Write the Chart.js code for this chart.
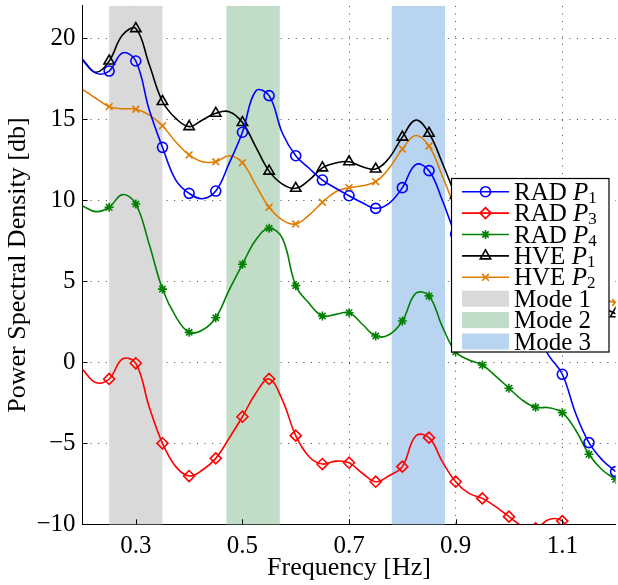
<!DOCTYPE html>
<html><head><meta charset="utf-8">
<script src="https://cdn.jsdelivr.net/npm/chart.js@4/dist/chart.umd.min.js"></script>
<style>html,body{margin:0;padding:0;background:#fff}</style>
</head><body>
<canvas id="c" width="618" height="585" style="display:block;width:618px;height:585px"></canvas>
<script>
// ---- data ----
const freq = [0.2,0.225,0.25,0.275,0.3,0.325,0.35,0.375,0.4,0.425,0.45,0.475,0.5,0.525,0.55,0.575,0.6,0.625,0.65,0.675,0.7,0.725,0.75,0.775,0.8,0.825,0.85,0.875,0.9,0.925,0.95,0.975,1.0,1.025,1.05,1.075,1.1,1.125,1.15,1.175,1.2];
const radP1 = [18.7,17.85,17.98,19.1,18.6,15.6,13.27,11.25,10.43,10.1,10.57,12.28,14.2,16.75,16.46,14.14,12.75,11.98,11.25,10.74,10.28,9.85,9.5,9.81,10.78,12.2,11.83,10.0,7.9,6.6,5.5,4.6,3.8,2.9,1.8,0.4,-0.74,-3.15,-4.96,-6.03,-6.75];
const radP3 = [-0.43,-1.25,-1.03,0.2,-0.06,-2.74,-5.0,-6.44,-7.02,-6.65,-5.93,-4.69,-3.36,-1.91,-1.03,-2.33,-4.53,-5.83,-6.28,-6.1,-6.2,-6.85,-7.37,-7.0,-6.44,-4.55,-4.65,-6.13,-7.37,-8.09,-8.4,-8.91,-9.53,-10.1,-10.25,-9.7,-9.8,-11.2,-12.5,-13.2,-13.6];
const radP4 = [9.65,9.3,9.57,10.35,9.77,7.3,4.52,2.82,1.85,1.99,2.75,4.46,6.05,7.55,8.27,7.65,4.73,3.64,2.86,2.96,3.06,2.35,1.62,1.7,2.55,4.25,4.1,2.2,0.65,0.14,-0.17,-0.85,-1.6,-2.33,-2.78,-2.8,-3.11,-4.18,-5.68,-6.65,-7.22];
const hveP1 = [18.66,17.9,18.6,20.2,20.6,18.4,16.1,15.06,14.55,14.96,15.37,15.47,14.8,13.3,11.8,11.0,10.74,11.25,12.0,12.3,12.38,12.07,11.93,12.6,13.9,14.95,14.14,12.3,10.3,8.7,7.4,6.5,5.9,5.4,5.0,4.7,4.4,4.1,3.8,3.4,3.0];
const hveP2 = [16.85,16.3,15.78,15.65,15.62,15.27,14.6,13.6,12.8,12.38,12.38,12.75,12.32,10.94,9.57,8.78,8.54,9.09,9.88,10.53,10.78,10.9,11.15,11.98,13.17,14.0,13.35,11.5,9.5,8.0,7.0,6.3,5.8,5.4,5.0,4.7,4.45,4.2,4.0,3.85,3.7];
const seriesNames = [['RAD','1'],['RAD','3'],['RAD','4'],['HVE','1'],['HVE','2']];
const modeNames = ['Mode 1','Mode 2','Mode 3'];
const modeStart = [0.25,0.47,0.78];
const modeEnd = [0.35,0.57,0.88];
const xTicks = [0.3,0.5,0.7,0.9,1.1];
const yTicks = [-10,-5,0,5,10,15,20];

// ---- styles ----
const FONT = 'Liberation Serif';
const FS_TICK = 25, FS_TITLE = 26, FS_LEG = 25;
const seriesColors = ['#0000ff','#ff0000','#008000','#000000','#de7d00'];
const seriesMarkers = ['circle','rectRot','star','triangle','crossRot'];
const markerSizes = [5,5.5,4.5,6,4.8];
const modeColors = ['#d9d9d9','#c1ddc7','#b9d4f0'];
const allSeries = [radP1,radP3,radP4,hveP1,hveP2];

const datasets = allSeries.map((vals,k)=>({
  label: seriesNames[k].join(' '),
  data: freq.map((x,i)=>({x:x,y:vals[i]})),
  borderColor: seriesColors[k],
  backgroundColor: seriesColors[k],
  borderWidth: 1.6,
  pointStyle: seriesMarkers[k],
  pointRadius: c => (c.dataIndex % 2 === 0 && c.dataIndex >= 2) ? markerSizes[k] : 0,
  pointBorderWidth: 1.6,
  pointBorderColor: seriesColors[k],
  pointBackgroundColor: 'rgba(0,0,0,0)',
  tension: 0.4,
  fill: false
}));

function marker(ctx, style, x, y, r){
  ctx.beginPath();
  const d = r*Math.SQRT1_2;
  switch(style){
    case 'circle': ctx.arc(x,y,r,0,Math.PI*2); break;
    case 'rectRot': ctx.moveTo(x,y-r); ctx.lineTo(x+r,y); ctx.lineTo(x,y+r); ctx.lineTo(x-r,y); ctx.closePath(); break;
    case 'triangle': ctx.moveTo(x,y-r); ctx.lineTo(x+0.866*r,y+0.5*r); ctx.lineTo(x-0.866*r,y+0.5*r); ctx.closePath(); break;
    case 'star': ctx.moveTo(x,y-r); ctx.lineTo(x,y+r); ctx.moveTo(x-r,y); ctx.lineTo(x+r,y);
      ctx.moveTo(x-d,y-d); ctx.lineTo(x+d,y+d); ctx.moveTo(x-d,y+d); ctx.lineTo(x+d,y-d); break;
    case 'crossRot': ctx.moveTo(x-d,y-d); ctx.lineTo(x+d,y+d); ctx.moveTo(x-d,y+d); ctx.lineTo(x+d,y-d); break;
  }
  ctx.stroke();
}

const bandsPlugin = {
  id:'bands',
  beforeDatasetsDraw(chart){
    const {ctx, chartArea:a, scales:{x}} = chart;
    ctx.save();
    modeStart.forEach((s,i)=>{
      const x1 = x.getPixelForValue(s), x2 = x.getPixelForValue(modeEnd[i]);
      ctx.fillStyle = modeColors[i];
      ctx.fillRect(x1, a.top, x2-x1, a.bottom-a.top);
    });
    ctx.restore();
  }
};

const ticksPlugin = {
  id:'inticks',
  afterDatasetsDraw(chart){
    const {ctx, chartArea:a, scales:{x,y}} = chart;
    ctx.save();
    ctx.strokeStyle = '#000'; ctx.lineWidth = 1;
    ctx.beginPath();
    xTicks.forEach(v=>{ const px = Math.round(x.getPixelForValue(v))+0.5; ctx.moveTo(px,a.bottom); ctx.lineTo(px,a.bottom-5); });
    yTicks.forEach(v=>{ const py = Math.round(y.getPixelForValue(v))+0.5; ctx.moveTo(a.left,py); ctx.lineTo(a.left+5,py); });
    ctx.stroke();
    ctx.restore();
  }
};

const legendPlugin = {
  id:'boxLegend',
  afterDraw(chart){
    const ctx = chart.ctx;
    const L=451.5, T=178.5, W=157.5, H=173.5;
    ctx.save();
    ctx.fillStyle='#fff'; ctx.fillRect(L,T,W,H);
    ctx.strokeStyle='#000'; ctx.lineWidth=1.2; ctx.strokeRect(L,T,W,H);
    const rowY = i => 191.7 + i*21.4;
    const tx = 514;
    chart.data.datasets.forEach((ds,i)=>{
      const y = rowY(i);
      ctx.strokeStyle = ds.borderColor; ctx.lineWidth = 1.6;
      ctx.beginPath(); ctx.moveTo(462,y); ctx.lineTo(509,y); ctx.stroke();
      marker(ctx, seriesMarkers[i], 485.5, y, markerSizes[i]);
      ctx.fillStyle = '#000'; ctx.textBaseline='alphabetic'; ctx.textAlign='left';
      let xx = tx;
      ctx.font = FS_LEG+'px "'+FONT+'"';
      const pre = seriesNames[i][0]+' ';
      ctx.fillText(pre, xx, y+8); xx += ctx.measureText(pre).width;
      ctx.font = 'italic '+FS_LEG+'px "'+FONT+'"';
      ctx.fillText('P', xx, y+8); xx += ctx.measureText('P').width;
      ctx.font = '17px "'+FONT+'"';
      ctx.fillText(seriesNames[i][1], xx, y+11);
    });
    modeNames.forEach((m,j)=>{
      const y = rowY(5+j);
      ctx.fillStyle = modeColors[j];
      ctx.fillRect(462, y-8, 47, 16);
      ctx.fillStyle = '#000';
      ctx.font = FS_LEG+'px "'+FONT+'"';
      ctx.fillText(m, tx, y+8);
    });
    ctx.restore();
  }
};

function noPad(s){ s.paddingLeft = 0; s.paddingRight = 0; s.paddingTop = 0; s.paddingBottom = 0; }

new Chart(document.getElementById('c'), {
  type:'line',
  data:{datasets},
  options:{
    responsive:false,
    animation:false,
    devicePixelRatio:1,
    layout:{autoPadding:false, padding:{top:5.9,right:2.4,left:0,bottom:0}},
    plugins:{legend:{display:false},tooltip:{enabled:false}},
    scales:{
      x:{
        type:'linear', min:0.2, max:1.2,
        afterBuildTicks: s => { s.ticks = xTicks.map(v=>({value:v})); },
        afterFit: s => { s.height = 60.7; noPad(s); },
        ticks:{padding:7, color:'#000', font:{family:FONT,size:FS_TICK}, callback:v=>v.toFixed(1), maxRotation:0, autoSkip:false},
        grid:{color:'#444', lineWidth:1, drawTicks:false},
        border:{display:true,color:'#000',width:1,dash:[1,6.6]},
        title:{display:true,text:'Frequency [Hz]',color:'#000',font:{family:FONT,size:FS_TITLE},padding:{top:0,bottom:1}}
      },
      y:{
        type:'linear', min:-10, max:22,
        afterBuildTicks: s => { s.ticks = yTicks.map(v=>({value:v})); },
        afterFit: s => { s.width = 82.5; noPad(s); },
        ticks:{padding:7, color:'#000', font:{family:FONT,size:FS_TICK}, callback:v=> v<0 ? '\u2212'+Math.abs(v) : String(v), autoSkip:false},
        grid:{color:'#444', lineWidth:1, drawTicks:false},
        border:{display:true,color:'#000',width:1,dash:[1,6.6]},
        title:{display:true,text:'Power Spectral Density [db]',color:'#000',font:{family:FONT,size:FS_TITLE},padding:{top:2.4,bottom:0}}
      }
    }
  },
  plugins:[bandsPlugin, ticksPlugin, legendPlugin]
});
</script>
</body></html>
